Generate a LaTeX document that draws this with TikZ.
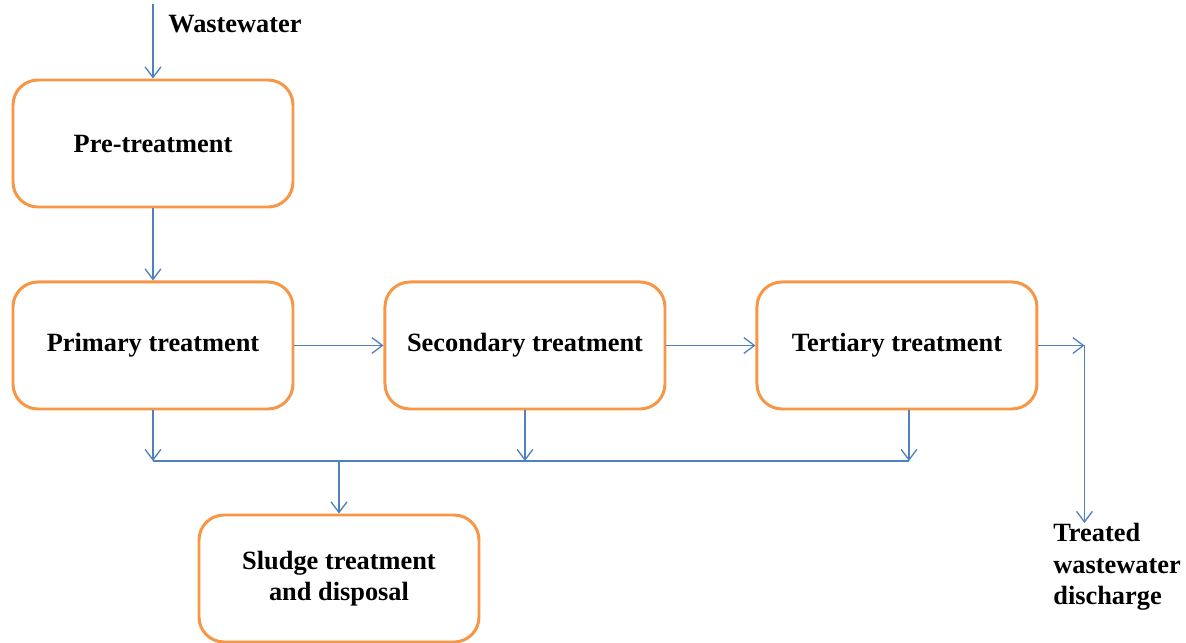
\documentclass[tikz,border=0pt]{standalone}
\usepackage{fontspec}
\setmainfont{Liberation Serif}
\usepackage{tikz}
\usetikzlibrary{arrows.meta, positioning}
\definecolor{boxorange}{HTML}{F79646}
\definecolor{flowblue}{HTML}{4F81BD}
\tikzset{
	stage/.style = {shape=rectangle, rounded corners=0.5cm,
		draw=boxorange, line width=1.7pt, align=center,
		minimum width=5.6cm, minimum height=2.54cm,
		font=\fontsize{15}{18}\selectfont\bfseries},
	label/.style = {align=left, inner sep=0pt,
		font=\fontsize{15}{18}\selectfont\bfseries},
	flow/.style  = {draw=flowblue, line width=0.75pt,
		-{Straight Barb[length=6pt,width=9pt]}},
	link/.style  = {draw=flowblue, line width=0.75pt},
}

\begin{document}
\begin{tikzpicture}
	\useasboundingbox (0,0) rectangle (23.72,-12.84);
	
	\node[stage] (pre) at (3.06,-2.87) {Pre-treatment};
	\node[stage, below=1.44cm of pre] (primary) {Primary treatment};
	\node[stage, right=1.78cm of primary] (secondary) {Secondary treatment};
	\node[stage, right=1.78cm of secondary] (tertiary) {Tertiary treatment};
	\node[stage, anchor=north] (sludge) at (6.78,-10.27) {Sludge treatment\\and disposal};
	
	% inflow and outflow
	\coordinate[above=1.5cm of pre] (inflow);
	\node[label, anchor=west] (ww) at (3.36,-0.48) {Wastewater};
	\coordinate[right=0.92cm of tertiary] (outflow);
	\coordinate (discharge) at (outflow |- 0,-10.46);
	\node[label, anchor=north west] (treated) at (21.06,-10.46) {Treated\\wastewater\\discharge};
	
	\draw[flow] (inflow) -- (pre);
	\draw[flow] (pre) -- (primary);
	\draw[flow] (primary) -- (secondary);
	\draw[flow] (secondary) -- (tertiary);
	\draw[flow] (tertiary) -- (outflow);
	\draw[flow] (outflow) -- (discharge);
	
	% sludge collection
	\coordinate (c1) at (primary.south |- 0,-9.22);
	\coordinate (c2) at (secondary.south |- 0,-9.22);
	\coordinate (t3) at ([xshift=0.24cm]tertiary.south);
	\coordinate (c3) at (t3 |- 0,-9.22);
	\coordinate (c4) at (sludge.north |- 0,-9.22);
	\draw[flow] (primary.south) -- (c1);
	\draw[flow] (secondary.south) -- (c2);
	\draw[flow] (t3) -- (c3);
	\draw[link] (c1) -- (c3);
	\draw[flow] (c4) -- (sludge.north);
\end{tikzpicture}
\end{document}
